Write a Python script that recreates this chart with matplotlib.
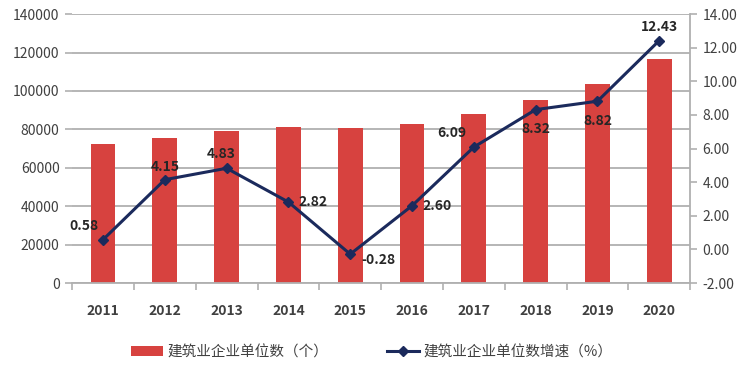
import numpy as np
import matplotlib.pyplot as plt

plt.rcParams['font.family'] = ['Noto Sans CJK SC', 'DejaVu Sans']

years = ['2011', '2012', '2013', '2014', '2015', '2016', '2017', '2018', '2019', '2020']
units = [72280, 75280, 78919, 81141, 80911, 83017, 88074, 95400, 103814, 116716]
growth = [0.58, 4.15, 4.83, 2.82, -0.28, 2.60, 6.09, 8.32, 8.82, 12.43]
# label offsets in points (dx, dy)
label_pos = [(-14, 10), (0, 9), (-4, 10), (18, 0), (20, -4), (18, 0), (-16, 10), (0, -14), (0, -14), (0, 10)]

bar_color = '#d7423f'
line_color = '#1b2a5c'
grid_color = '#b0b0b0'
text_color = '#404040'

fig = plt.figure(figsize=(7.51, 3.83), dpi=100)
ax = fig.add_axes([0.096, 0.261, 0.823, 0.702])
x = np.arange(len(years))

ax.bar(x, units, width=0.4, color=bar_color, zorder=2, label='建筑业企业单位数（个）')
ax.set_ylim(0, 140000)
ax.set_yticks(np.arange(0, 140001, 20000))
ax.set_xlim(-0.5, len(years) - 0.5)
ax.grid(axis='y', color=grid_color, linewidth=1.3, zorder=0)
ax.set_xticks(x)
ax.set_xticklabels(years)
ax.set_xticks(np.arange(-0.5, len(years), 1), minor=True)
ax.tick_params(axis='x', which='major', length=0, pad=15, labelsize=10, labelcolor=text_color)
ax.tick_params(axis='x', which='minor', length=5, color=grid_color, width=1.2, direction='out')
ax.tick_params(axis='y', length=5, color=grid_color, width=1.2, labelsize=10, labelcolor=text_color, pad=4)
for lab in ax.get_xticklabels():
    lab.set_fontweight('bold')
for s in ['top', 'right', 'left']:
    ax.spines[s].set_visible(False)
ax.spines['bottom'].set_color(grid_color)
ax.spines['bottom'].set_linewidth(1.3)

ax2 = ax.twinx()
ax2.plot(x, growth, color=line_color, linewidth=2.2, marker='D', markersize=5,
         zorder=3, label='建筑业企业单位数增速（%）')
ax2.set_ylim(-2, 14)
ax2.set_yticks(np.arange(-2, 14.01, 2))
ax2.set_yticklabels(['%.2f' % v for v in np.arange(-2, 14.01, 2)])
ax2.tick_params(axis='y', length=5, color=grid_color, width=1.2, labelsize=10, labelcolor=text_color, pad=4)
for s in ['top', 'left', 'bottom']:
    ax2.spines[s].set_visible(False)
ax2.spines['right'].set_color(grid_color)
ax2.spines['right'].set_linewidth(1.3)

for xi, g, (dx, dy) in zip(x, growth, label_pos):
    ax2.annotate('%.2f' % g, (xi, g), xytext=(dx, dy), textcoords='offset points',
                 ha='center', va='center', fontsize=10, fontweight='bold', color='#262626')

h1, l1 = ax.get_legend_handles_labels()
h2, l2 = ax2.get_legend_handles_labels()
fig.legend(h1 + h2, l1 + l2, loc='center', bbox_to_anchor=(0.495, 0.08), ncol=2,
           frameon=False, fontsize=10.5, handlelength=2.2, handletextpad=0.3,
           columnspacing=4, labelcolor=text_color)

fig.savefig('out.png', dpi=100, facecolor='white')
